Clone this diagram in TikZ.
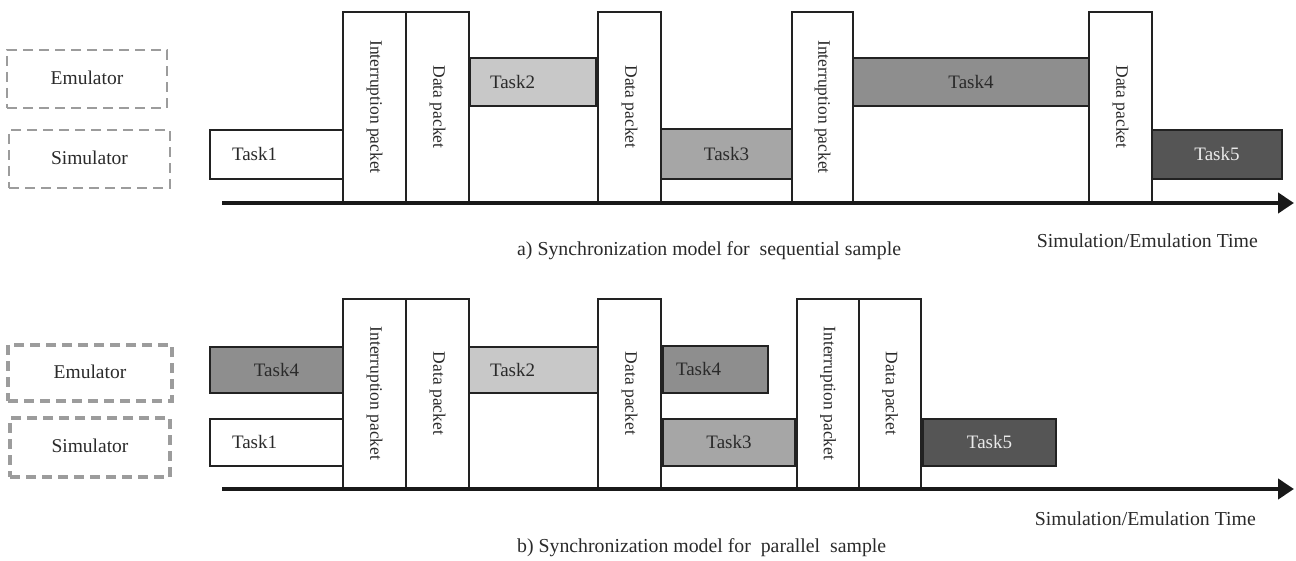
\documentclass[tikz,border=0pt]{standalone}
\usepackage{fontspec}
\setmainfont{Liberation Serif}
\usetikzlibrary{arrows.meta}
\definecolor{edge}{HTML}{222222}
\definecolor{txt}{HTML}{2A2A2A}
\definecolor{dashc}{HTML}{9C9C9C}
\definecolor{ctwo}{HTML}{C8C8C8}
\definecolor{cthree}{HTML}{A6A6A6}
\definecolor{cfour}{HTML}{8E8E8E}
\definecolor{cfive}{HTML}{555555}
\tikzset{
  role/.style={draw=dashc, line width=2.5pt, dash pattern=on 10pt off 6pt, text=txt, font=\fontsize{19.5}{22}\selectfont, inner sep=0pt},
  roleB/.style={role, line width=3.2pt},
  task/.style={draw=edge, line width=1.8pt, text=txt, font=\fontsize{19}{22}\selectfont, inner sep=0pt},
  lefttask/.style={task, align=left, inner xsep=22pt},
  packet/.style={draw=edge, fill=white, line width=1.8pt, text=txt, rotate=-90, font=\fontsize{17.5}{21}\selectfont, inner sep=0pt},
  axis/.style={draw=black!90, line width=4pt, -{Triangle[length=16pt,width=20pt]}},
  lbl/.style={text=txt, font=\fontsize{19.8}{22}\selectfont, inner sep=0pt}
}
\begin{document}
\begin{tikzpicture}[x=1pt,y=-1pt]
\useasboundingbox (0,0) rectangle (1296,561);
% ---------------- panel a ----------------
\node[role, minimum width=160pt, minimum height=58pt] (emuA) at (87,79) {\raisebox{3pt}{Emulator}};
\node[role, minimum width=161pt, minimum height=58pt] (simA) at (89.5,159) {\raisebox{3pt}{Simulator}};
\node[lefttask, text width=89pt, minimum height=49pt] (t1A) at (276.5,154.5) {Task1};
\node[lefttask, fill=ctwo, text width=86pt, minimum height=48pt, inner xsep=20pt] (t2A) at (533,82) {Task2};
\node[task, fill=cthree, minimum width=131pt, minimum height=50pt] (t3A) at (726.5,154) {Task3};
\node[task, fill=cfour, minimum width=236pt, minimum height=48pt] (t4A) at (971,82) {Task4};
\node[task, fill=cfive, text=white!92!black, minimum width=130pt, minimum height=49pt] (t5A) at (1217,154.5) {Task5};
\node[packet, minimum width=190pt, minimum height=63pt] (ipA1) at (374.5,107) {Interruption packet};
\node[packet, minimum width=190pt, minimum height=63pt] (dpA1) at (437.5,107) {Data packet};
\node[packet, minimum width=190pt, minimum height=63pt] (dpA2) at (629.5,107) {Data packet};
\node[packet, minimum width=190pt, minimum height=61pt] (ipA2) at (822.5,107) {Interruption packet};
\node[packet, minimum width=190pt, minimum height=63pt] (dpA3) at (1120.5,107) {Data packet};
\coordinate (axAs) at (222,203);
\coordinate (axAe) at (1294,203);
\draw[axis] (axAs) -- (axAe);
\node[lbl, anchor=east] (timeA) at (1258,241) {Simulation/Emulation Time};
\node[lbl, anchor=west] (capA) at (517,251) {a) Synchronization model for\ \ sequential sample};
% ---------------- panel b ----------------
\node[roleB, minimum width=164pt, minimum height=56pt] (emuB) at (90,373) {\raisebox{3pt}{Emulator}};
\node[roleB, minimum width=160pt, minimum height=59pt] (simB) at (90,447.5) {\raisebox{3pt}{Simulator}};
\node[task, fill=cfour, minimum width=133pt, minimum height=46pt] (t4B1) at (276.5,370) {Task4};
\node[lefttask, text width=89pt, minimum height=47pt] (t1B) at (276.5,442.5) {Task1};
\node[lefttask, fill=ctwo, text width=89pt, minimum height=46pt, inner xsep=21pt] (t2B) at (534.5,370) {Task2};
\node[lefttask, fill=cfour, text width=79pt, minimum height=47pt, inner xsep=13pt] (t4B2) at (715.5,369.5) {Task4};
\node[task, fill=cthree, minimum width=132pt, minimum height=47pt] (t3B) at (729,442.5) {Task3};
\node[task, fill=cfive, text=white!92!black, minimum width=133pt, minimum height=47pt] (t5B) at (989.5,442.5) {Task5};
\node[packet, minimum width=189pt, minimum height=63pt] (ipB1) at (374.5,393.5) {Interruption packet};
\node[packet, minimum width=189pt, minimum height=63pt] (dpB1) at (437.5,393.5) {Data packet};
\node[packet, minimum width=189pt, minimum height=63pt] (dpB2) at (629.5,393.5) {Data packet};
\node[packet, minimum width=189pt, minimum height=62pt] (ipB2) at (828,393.5) {Interruption packet};
\node[packet, minimum width=189pt, minimum height=62pt] (dpB3) at (890,393.5) {Data packet};
\coordinate (axBs) at (222,489);
\coordinate (axBe) at (1294,489);
\draw[axis] (axBs) -- (axBe);
\node[lbl, anchor=east] (timeB) at (1256,519) {Simulation/Emulation Time};
\node[lbl, anchor=west] (capB) at (517,548) {b) Synchronization model for\ \ parallel\ \ sample};
\end{tikzpicture}
\end{document}
